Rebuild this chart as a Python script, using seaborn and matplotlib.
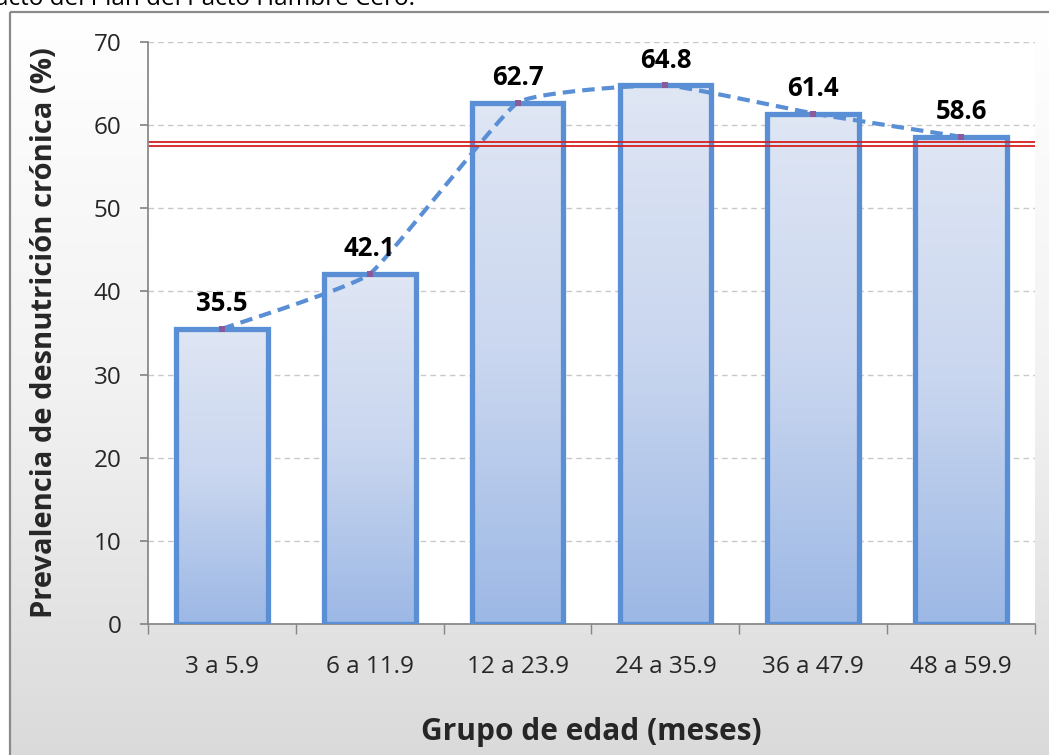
import numpy as np
import pandas as pd
import matplotlib
matplotlib.use("Agg")
import matplotlib.pyplot as plt
import seaborn as sns
from matplotlib.colors import LinearSegmentedColormap
from matplotlib.patches import Rectangle

categories = ["3 a 5.9", "6 a 11.9", "12 a 23.9", "24 a 35.9", "36 a 47.9", "48 a 59.9"]
values = [35.5, 42.1, 62.7, 64.8, 61.4, 58.6]
ref_lines = [58.0, 57.5]
yticks = [0, 10, 20, 30, 40, 50, 60, 70]
title_text = "acto del Plan del Pacto Hambre Cero."
ylabel = "Prevalencia de desnutrición crónica (%)"
xlabel = "Grupo de edad (meses)"

sns.set_theme(style="white")
plt.rcParams['font.family'] = ['Open Sans', 'DejaVu Sans']

W, H = 1049, 755
fig = plt.figure(figsize=(W / 100, H / 100), dpi=100)

# background frame with gradient
bg = fig.add_axes([0, 0, 1, 1], zorder=-5)
bg.set_xlim(0, W)
bg.set_ylim(H, 0)
bg.axis("off")
grad = np.linspace(0, 1, 256).reshape(-1, 1)
bg_cmap = LinearSegmentedColormap.from_list("bgc", ["#ffffff", "#f2f2f2", "#dadada"])
bg.imshow(grad, extent=[10, W + 5, H + 5, 12], cmap=bg_cmap, aspect="auto", zorder=0)
bg.add_patch(Rectangle((10, 12), W, H, fill=False, edgecolor="#8a8a8a", lw=1.6, zorder=1))
bg.text(-5, 5, title_text, fontsize=17.5, color="black", va="baseline", ha="left", zorder=2)

ax = fig.add_axes([148 / W, 1 - 624 / H, (1035 - 148) / W, (624 - 42) / H])
df = pd.DataFrame({"cat": categories, "val": values})
sns.barplot(data=df, x="cat", y="val", ax=ax, width=0.62, color="#c7d5ef",
            edgecolor="#5a8fd5", linewidth=3.8, saturation=1, zorder=3)
ax.set_facecolor("white")

# gradient fill inside bars
bar_cmap = LinearSegmentedColormap.from_list("barc", ["#dfe6f4", "#c9d6ef", "#9cb8e5"])
for p in ax.patches:
    x0, w, h = p.get_x(), p.get_width(), p.get_height()
    p.set_facecolor("none")
    im = ax.imshow(grad, extent=[x0, x0 + w, 0, h], cmap=bar_cmap, aspect="auto",
                   origin="upper", zorder=2)
    im.set_clip_path(p)
ax.set_aspect("auto")
ax.set_xlim(-0.5, len(categories) - 0.5)
ax.set_ylim(0, 70)

# smoothed dashed trend line (cubic Bezier through the data points)
xs = np.arange(len(values), dtype=float)
ys = np.array(values, dtype=float)
P = np.column_stack([xs, ys])
Pe = np.vstack([P[0], P, P[-1]])
k = 0.06
t = np.linspace(0, 1, 40)[:, None]
cx, cy = [], []
for i in range(1, len(Pe) - 2):
    p0, p1, p2, p3 = Pe[i - 1], Pe[i], Pe[i + 1], Pe[i + 2]
    c1 = p1 + (p2 - p0) * k
    c2 = p2 - (p3 - p1) * k
    pts = ((1 - t) ** 3) * p1 + 3 * ((1 - t) ** 2) * t * c1 + 3 * (1 - t) * t ** 2 * c2 + t ** 3 * p2
    cx.extend(pts[:, 0]); cy.extend(pts[:, 1])
ax.plot(cx, cy, color="#5a8fd5", lw=3, ls=(0, (3, 1.7)), zorder=5)
ax.scatter(xs, ys, marker="s", s=22, color="#8b5a9a", zorder=6, linewidths=0)

# reference double red line
for r in ref_lines:
    ax.axhline(r, color="#d42020", lw=1.3, zorder=6)

# data labels
for i, v in enumerate(values):
    ax.text(i, v + 1.4, f"{v:.1f}", ha="center", va="bottom", fontsize=18.5,
            fontweight="bold", color="black", zorder=7)

# grid
ax.set_yticks(yticks)
ax.yaxis.grid(True, color="#c8c8c8", ls=(0, (4, 3)), lw=1)
ax.set_axisbelow(True)
for s in ["top", "right"]:
    ax.spines[s].set_visible(False)
ax.spines["left"].set_color("#868686")
ax.spines["bottom"].set_color("#868686")
ax.spines["left"].set_zorder(8)

ax.tick_params(axis="y", labelsize=17.5, left=True, length=6, color="#868686", pad=13)
ax.tick_params(axis="x", labelsize=17.5, bottom=False, pad=16)
ax.set_xticks(np.arange(-0.5, len(categories), 1.0), minor=True)
ax.tick_params(axis="x", which="minor", bottom=True, length=7, color="#868686")
ax.set_xticks(range(len(categories)))
ax.set_xticklabels(categories)

ax.set_ylabel(ylabel, fontsize=21, fontweight="bold", labelpad=25)
ax.set_xlabel(xlabel, fontsize=21.5, fontweight="bold", labelpad=28)

fig.savefig("out.png", dpi=100)
